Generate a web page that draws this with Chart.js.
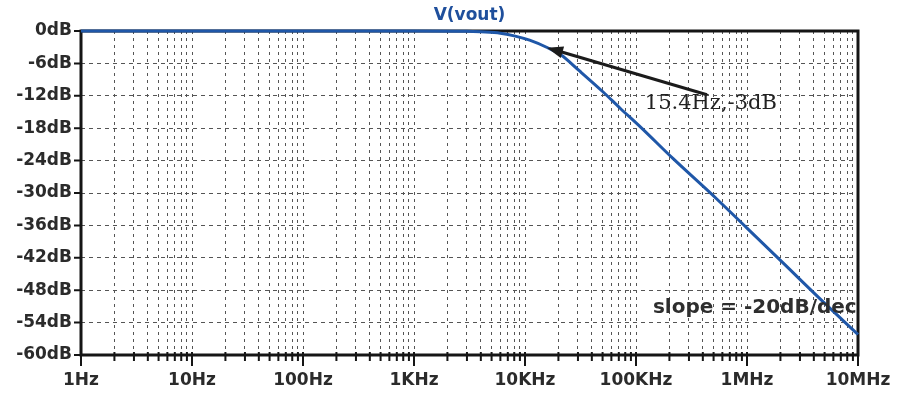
<!DOCTYPE html>
<html>
<head>
<meta charset="utf-8">
<script src="https://cdn.jsdelivr.net/npm/chart.js@4.4.0/dist/chart.umd.min.js"></script>
<style>
html, body { margin: 0; padding: 0; background: #fff; }
#wrap { width: 911px; height: 393px; }
</style>
</head>
<body>
<div id="wrap"><canvas id="bode"></canvas></div>
<script>
// gain, frequency in Hz
const freqHz = [1, 10, 100, 1000, 3000, 4000, 6000, 8000, 11000, 16000, 21000, 31000, 50000, 72000, 110000, 215000, 540000, 1000000, 2100000, 5000000, 10000000];
const gainDb = [0, 0, 0, 0, -0.05, -0.15, -0.4, -0.9, -1.7, -3.1, -4.4, -7.4, -11.2, -14.3, -17.8, -23.6, -31.2, -36.5, -42.9, -50.4, -56.2];

const decadeLabels = ['1Hz', '10Hz', '100Hz', '1KHz', '10KHz', '100KHz', '1MHz', '10MHz'];
const dbMin = -60, dbMax = 0, dbStep = 6;

const titleText = 'V(vout)';
const noteText = '15.4Hz,-3dB';
const slopeText = 'slope = -20dB/dec';
// annotation anchors in data units (Hz, dB)
const arrowFrom = [436000, -11.8];
const arrowTo = [15800, -3.1];
const notePos = [120000, -13.5];
const slopePos = [142000, -51.3];

const isDecade = v => Math.abs(Math.log10(v) - Math.round(Math.log10(v))) < 1e-9;

const bodeDecor = {
  id: 'bodeDecor',
  beforeDatasetsDraw(chart) {
    const {ctx, chartArea: a, scales: {x, y}} = chart;
    ctx.save();
    ctx.strokeStyle = '#151515';
    ctx.lineWidth = 3;
    ctx.strokeRect(a.left, a.top, a.right - a.left, a.bottom - a.top);
    ctx.lineWidth = 2;
    ctx.beginPath();
    y.ticks.forEach(t => {
      const py = y.getPixelForValue(t.value);
      ctx.moveTo(a.left - 7, py); ctx.lineTo(a.left, py);
    });
    x.ticks.forEach(t => {
      const px = x.getPixelForValue(t.value);
      ctx.moveTo(px, a.bottom - 3); ctx.lineTo(px, a.bottom + (isDecade(t.value) ? 11 : 6));
    });
    ctx.stroke();
    ctx.restore();
  },
  afterDatasetsDraw(chart) {
    const {ctx, chartArea: a, scales: {x, y}} = chart;
    ctx.save();
    // title
    ctx.fillStyle = '#1f4f9c';
    ctx.font = 'bold 17px "DejaVu Sans"';
    ctx.textAlign = 'center';
    ctx.textBaseline = 'middle';
    ctx.fillText(titleText, (a.left + a.right) / 2, 16);

    // arrow to the -3dB point
    const x0 = x.getPixelForValue(arrowFrom[0]), y0 = y.getPixelForValue(arrowFrom[1]);
    const x1 = x.getPixelForValue(arrowTo[0]), y1 = y.getPixelForValue(arrowTo[1]);
    const ang = Math.atan2(y1 - y0, x1 - x0);
    ctx.strokeStyle = '#1b1b1b';
    ctx.fillStyle = '#1b1b1b';
    ctx.lineWidth = 3;
    ctx.beginPath();
    ctx.moveTo(x0, y0);
    ctx.lineTo(x1 - 10 * Math.cos(ang), y1 - 10 * Math.sin(ang));
    ctx.stroke();
    ctx.beginPath();
    ctx.moveTo(x1, y1);
    ctx.lineTo(x1 - 16 * Math.cos(ang) + 6 * Math.sin(ang), y1 - 16 * Math.sin(ang) - 6 * Math.cos(ang));
    ctx.lineTo(x1 - 16 * Math.cos(ang) - 6 * Math.sin(ang), y1 - 16 * Math.sin(ang) + 6 * Math.cos(ang));
    ctx.closePath();
    ctx.fill();

    ctx.textAlign = 'left';
    ctx.fillStyle = '#222';
    ctx.font = '21px "DejaVu Serif"';
    ctx.fillText(noteText, x.getPixelForValue(notePos[0]), y.getPixelForValue(notePos[1]));

    ctx.fillStyle = '#2e2e2e';
    ctx.font = '600 20px "DejaVu Sans"';
    ctx.fillText(slopeText, x.getPixelForValue(slopePos[0]), y.getPixelForValue(slopePos[1]));
    ctx.restore();
  }
};

const tickFont = {family: 'DejaVu Sans', size: 17, weight: 'bold'};

new Chart(document.getElementById('bode'), {
  type: 'line',
  data: {
    datasets: [{
      data: freqHz.map((f, i) => ({x: f, y: gainDb[i]})),
      borderColor: '#1f57a8',
      borderWidth: 3,
      pointRadius: 0,
      cubicInterpolationMode: 'monotone',
      clip: false
    }]
  },
  options: {
    responsive: true,
    maintainAspectRatio: false,
    animation: false,
    layout: {padding: {left: 0, right: 53, top: 31, bottom: 0}},
    plugins: {legend: {display: false}, tooltip: {enabled: false}, title: {display: false}},
    scales: {
      x: {
        type: 'logarithmic',
        min: 1,
        max: 1e7,
        afterBuildTicks(scale) {
          const vals = [];
          for (let d = 0; d < 7; d++) {
            for (let m = 1; m < 10; m++) vals.push(m * Math.pow(10, d));
          }
          vals.push(1e7);
          scale.ticks = vals.map(v => ({value: v}));
        },
        afterFit(scale) { scale.height = 38; },
        ticks: {
          autoSkip: false,
          maxRotation: 0,
          minRotation: 0,
          padding: 15,
          color: '#2b2b2b',
          font: tickFont,
          callback: v => isDecade(v) ? decadeLabels[Math.round(Math.log10(v))] : ''
        },
        grid: {color: '#555', lineWidth: 1, drawTicks: false},
        border: {display: false, dash: [3, 4]}
      },
      y: {
        min: dbMin,
        max: dbMax,
        afterFit(scale) { scale.width = 81; },
        ticks: {
          stepSize: dbStep,
          padding: 9,
          color: '#2b2b2b',
          font: tickFont,
          callback: v => v + 'dB'
        },
        grid: {color: '#555', lineWidth: 1, drawTicks: false},
        border: {display: false, dash: [4, 4]}
      }
    }
  },
  plugins: [bodeDecor]
});
</script>
</body>
</html>
